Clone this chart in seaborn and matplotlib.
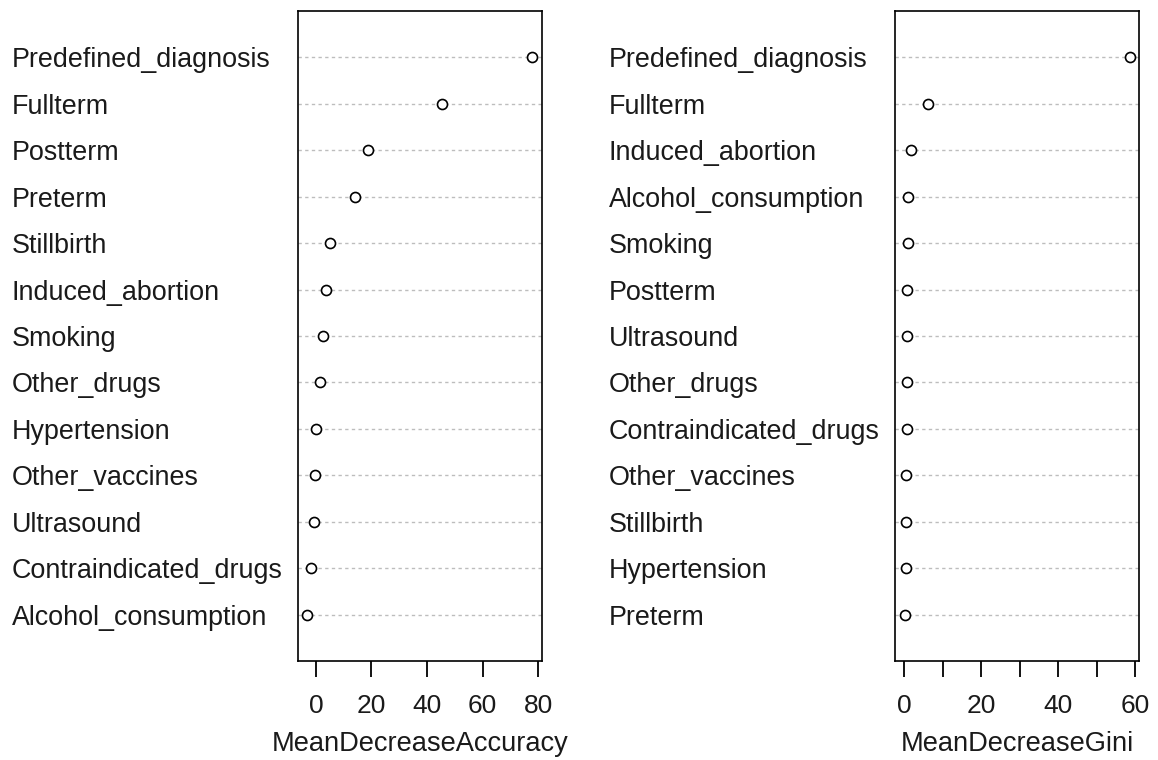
import matplotlib
matplotlib.use("Agg")
import matplotlib.pyplot as plt
import seaborn as sns
import pandas as pd

# Variable importance from a random forest, one column per measure,
# listed top to bottom in the order they are drawn.
acc_labels = ["Predefined_diagnosis", "Fullterm", "Postterm", "Preterm", "Stillbirth",
              "Induced_abortion", "Smoking", "Other_drugs", "Hypertension",
              "Other_vaccines", "Ultrasound", "Contraindicated_drugs", "Alcohol_consumption"]
acc_values = [78.0, 45.3, 18.9, 14.1, 4.9, 3.7, 2.5, 1.3, 0.1, -0.4, -0.6, -1.9, -3.2]

gini_labels = ["Predefined_diagnosis", "Fullterm", "Induced_abortion", "Alcohol_consumption",
               "Smoking", "Postterm", "Ultrasound", "Other_drugs", "Contraindicated_drugs",
               "Other_vaccines", "Stillbirth", "Hypertension", "Preterm"]
gini_values = [58.6, 6.1, 1.75, 0.95, 0.9, 0.88, 0.85, 0.83, 0.8, 0.55, 0.48, 0.42, 0.32]

acc_ticks = [0, 20, 40, 60, 80]
acc_ticklabels = ["0", "20", "40", "60", "80"]
gini_ticks = [0, 10, 20, 30, 40, 50, 60]
gini_ticklabels = ["0", "", "20", "", "40", "", "60"]

sns.set_style("white")
plt.rcParams["font.family"] = ["Liberation Sans", "DejaVu Sans"]
plt.rcParams["text.color"] = "#1a1a1a"
plt.rcParams["axes.labelcolor"] = "#1a1a1a"
plt.rcParams["xtick.labelcolor"] = "#1a1a1a"
plt.rcParams["ytick.labelcolor"] = "#1a1a1a"

W, H = 1158, 760
fig = plt.figure(figsize=(W / 100, H / 100), dpi=100)
fig.patch.set_facecolor("white")

NAME_FS = 19.4
TICK_FS = 19.0
XLAB_FS = 19.6


def dot_panel(rect, labels, values, xmin_zero, ticks, ticklabels, xlabel):
    ax = fig.add_axes(rect)
    df = pd.DataFrame({"label": labels, "value": values})
    n = len(labels)
    lo = 0.0 if xmin_zero else min(values)
    hi = max(values)
    pad = 0.04 * (hi - lo)
    ax.set_xlim(lo - pad, hi + pad)

    # dotted guide line for each variable
    ax.hlines(df["label"], lo - pad, hi + pad, colors="#bdbdbd",
              linestyles=(0, (2.4, 2.4)), linewidth=1.0, zorder=1)
    sns.scatterplot(data=df, x="value", y="label", ax=ax, marker="o", s=52,
                    facecolor="white", edgecolor="black", linewidth=1.2,
                    zorder=3, legend=False)
    ax.set_ylim(n, -1)

    ax.set_yticks(range(n))
    ax.set_yticklabels(labels, fontsize=NAME_FS, ha="left", va="center_baseline")
    ax.tick_params(axis="y", length=0, pad=206)

    ax.set_xticks(ticks)
    ax.set_xticklabels(ticklabels, fontsize=TICK_FS)
    ax.tick_params(axis="x", direction="out", length=11.5, width=1.3,
                   pad=12.5, color="black", bottom=True)
    ax.set_xlabel(xlabel, fontsize=XLAB_FS, labelpad=9)
    ax.set_ylabel("")
    for sp in ax.spines.values():
        sp.set_visible(True)
        sp.set_color("black")
        sp.set_linewidth(1.2)
    ax.grid(False)
    return ax


top = 11
bottom = 661
dot_panel([298 / W, (H - bottom) / H, 243.5 / W, (bottom - top) / H],
          acc_labels, acc_values, False, acc_ticks, acc_ticklabels,
          "MeanDecreaseAccuracy")
dot_panel([895 / W, (H - bottom) / H, 244 / W, (bottom - top) / H],
          gini_labels, gini_values, True, gini_ticks, gini_ticklabels,
          "MeanDecreaseGini")

fig.savefig("out.png", dpi=100, facecolor="white")
